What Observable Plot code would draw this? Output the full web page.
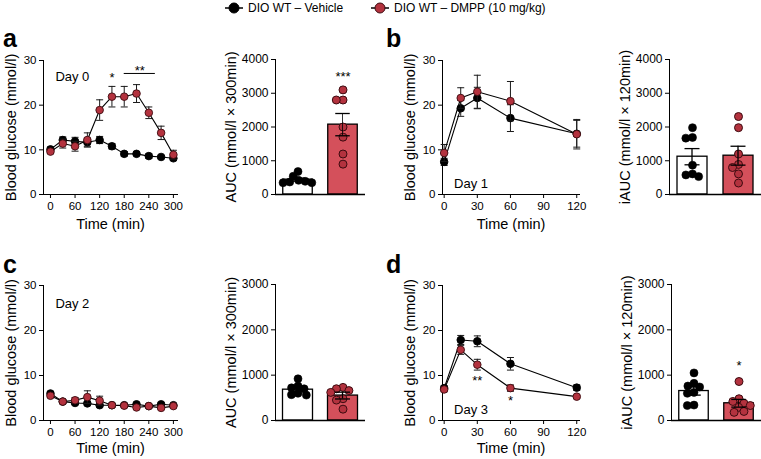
<!DOCTYPE html>
<html>
<head>
<meta charset="utf-8">
<script src="https://cdn.jsdelivr.net/npm/d3@7"></script>
<script src="https://cdn.jsdelivr.net/npm/@observablehq/plot@0.6"></script>
<style>
  html, body { margin: 0; padding: 0; background: white; }
  #root { position: relative; width: 761px; height: 459px; overflow: hidden; font-family: 'Liberation Sans', Arial, Helvetica, sans-serif; color: black; }
  #root svg g[aria-label="x-axis label"], #root svg g[aria-label="y-axis label"] { font-size: 14.5px; }
  .letter { position: absolute; font-weight: bold; font-size: 25px; line-height: 25px; }
  .leg { position: absolute; top: 1px; display: flex; align-items: center; font-size: 12px; white-space: nowrap; }
  .leg svg { margin-right: 4px; }
</style>
</head>
<body>
<div id="root"></div>
<script>
// ---------------- data ----------------
const groups = ["Vehicle", "DMPP"];
const seriesLabels = ["DIO WT \u2013 Vehicle", "DIO WT \u2013 DMPP (10 mg/kg)"];

const glucoseTicks = [0, 10, 20, 30];
const longTimeTicks = [0, 60, 120, 180, 240, 300];
const shortTimeTicks = [0, 30, 60, 90, 120];
const aucTicks4000 = [0, 1000, 2000, 3000, 4000];
const aucTicks3000 = [0, 1000, 2000, 3000];

const timesLong = [0, 30, 60, 90, 120, 150, 180, 210, 240, 270, 300];
const timesShort = [0, 15, 30, 60, 120];

// Day 0 (panel a)
const day0Vehicle    = [10.1, 12.2, 11.9, 11.7, 12.2, 10.8, 9.1, 9.1, 8.6, 8.4, 8.1];
const day0VehicleSem = [0.5, 0.7, 0.9, 0.9, 0.8, 0.6, 0.5, 0.4, 0.5, 0.3, 0.4];
const day0Dmpp       = [9.6, 11.4, 10.8, 12.2, 18.9, 21.9, 21.9, 22.6, 18.3, 13.8, 8.9];
const day0DmppSem    = [0.4, 1.0, 1.1, 1.6, 2.3, 2.3, 2.3, 2.0, 1.3, 1.5, 1.0];
const aucDay0Vehicle = [680, 540, 420, 390, 370, 350, 350];
const aucDay0Dmpp    = [3100, 2800, 2800, 2000, 1700, 1200, 900];
const aucDay0Mean    = [440, 2070];
const aucDay0Sem     = [45, 330];

// Day 1 (panel b)
const day1Vehicle    = [7.3, 19.3, 21.6, 17.1, 13.6];
const day1VehicleSem = [0.8, 1.8, 2.4, 3.0, 3.0];
const day1Dmpp       = [9.3, 21.6, 23.0, 20.9, 13.5];
const day1DmppSem    = [1.9, 2.3, 3.7, 4.4, 3.3];
const iaucDay1Vehicle = [1980, 1690, 1670, 870, 610, 580, 530];
const iaucDay1Dmpp    = [2310, 1980, 1200, 890, 800, 610, 340];
const iaucDay1Mean    = [1120, 1150];
const iaucDay1Sem     = [240, 280];

// Day 2 (panel c)
const day2Vehicle    = [6.0, 4.2, 3.9, 3.8, 3.4, 3.4, 3.4, 3.6, 3.2, 3.6, 3.4];
const day2VehicleSem = [0.4, 0.3, 0.3, 0.3, 0.3, 0.2, 0.2, 0.3, 0.2, 0.3, 0.3];
const day2Dmpp       = [5.5, 4.2, 4.5, 5.2, 4.4, 3.4, 3.3, 2.9, 3.2, 2.8, 3.2];
const day2DmppSem    = [0.4, 0.3, 0.6, 1.4, 1.0, 0.3, 0.2, 0.3, 0.2, 0.3, 0.3];
const aucDay2Vehicle = [920, 760, 720, 700, 600, 570, 560];
const aucDay2Dmpp    = [730, 700, 660, 620, 480, 450, 250];
const aucDay2Mean    = [680, 550];
const aucDay2Sem     = [45, 75];

// Day 3 (panel d)
const day3Vehicle    = [7.2, 17.9, 17.6, 12.6, 7.3];
const day3VehicleSem = [0.5, 1.0, 1.2, 1.4, 0.6];
const day3Dmpp       = [6.9, 15.7, 12.4, 7.2, 5.3];
const day3DmppSem    = [0.5, 1.0, 1.2, 0.7, 0.3];
const iaucDay3Vehicle = [1050, 820, 760, 740, 620, 600, 340, 330];
const iaucDay3Dmpp    = [860, 480, 420, 380, 330, 290, 200, 180];
const iaucDay3Mean    = [650, 380];
const iaucDay3Sem     = [90, 85];

// ---------------- style ----------------
const FONT = "'Liberation Sans', Arial, Helvetica, sans-serif";
const RED_DOT = "#b3323e";
const RED_EDGE = "#3d0b10";
const RED_BAR = "#d4505b";
const capSymbol = { draw(ctx, size) { const w = Math.sqrt(size / Math.PI); ctx.moveTo(-w, 0); ctx.lineTo(w, 0); } };
// drawn circle larger than the radius used for dodging, so points may overlap a little (Prism-like scatter)
const DOT_GROW = 1.4;
const bigCircle = { draw(ctx, size) { const r = Math.sqrt(size / Math.PI) * DOT_GROW; ctx.moveTo(r, 0); ctx.arc(0, 0, r, 0, 2 * Math.PI); ctx.closePath(); } };

const root = document.getElementById("root");
function place(node, left, top) {
  node.style.position = "absolute";
  node.style.left = left + "px";
  node.style.top = top + "px";
  root.appendChild(node);
}

function linePanel(o) {
  const rows = (vals, sems) => o.times.map((t, i) => ({ t, v: vals[i], lo: vals[i] - sems[i], hi: vals[i] + sems[i] }));
  const series = (data, fill, stroke) => [
    Plot.ruleX(data, { x: "t", y1: "lo", y2: "hi", stroke: "#1a1a1a", strokeWidth: 1 }),
    Plot.dot(data, { x: "t", y: "hi", symbol: capSymbol, r: 3.5, fill: "none", stroke: "#1a1a1a", strokeWidth: 1 }),
    Plot.dot(data, { x: "t", y: "lo", symbol: capSymbol, r: 3.5, fill: "none", stroke: "#1a1a1a", strokeWidth: 1 }),
    Plot.line(data, { x: "t", y: "v", stroke: "black", strokeWidth: 1.1 }),
    Plot.dot(data, { x: "t", y: "v", r: 3.8, fill, stroke, strokeWidth: 0.9 })
  ];
  return Plot.plot({
    width: o.width, height: 200,
    marginLeft: o.marginLeft, marginRight: o.marginRight, marginTop: 20, marginBottom: o.marginBottom,
    style: { fontFamily: FONT, fontSize: "11.5px", color: "black", background: "transparent", overflow: "visible" },
    x: { domain: o.xDomain, ticks: o.xTicks, tickFormat: "d", tickSize: 4, tickPadding: 3, line: true,
         label: "Time (min)", labelAnchor: "center", labelOffset: o.xLabelOffset, labelArrow: "none" },
    y: { domain: [0, 30], ticks: glucoseTicks, tickFormat: "d", tickSize: 4, tickPadding: 3, line: true,
         label: "Blood glucose (mmol/l)", labelAnchor: "center", labelOffset: 38, labelArrow: "none" },
    marks: [
      ...series(rows(o.veh, o.vehSem), "black", "black"),
      ...series(rows(o.dmpp, o.dmppSem), RED_DOT, RED_EDGE),
      ...(o.extra || [])
    ]
  });
}

function barPanel(o) {
  const pts = (vals, g) => vals.map(v => ({ g, v }));
  const stats = groups.map((g, i) => ({ g, mean: o.mean[i], lo: o.mean[i] - o.sem[i], hi: o.mean[i] + o.sem[i] }));
  const fw = (o.width - o.marginLeft - o.marginRight) / 2;
  const barInset = (fw - 30) / 2;
  const capInset = (fw - 15) / 2;
  const stemInset = (fw - 1.3) / 2;
  const dodgeR = 4 / DOT_GROW;
  return Plot.plot({
    width: o.width, height: 200,
    marginLeft: o.marginLeft, marginRight: o.marginRight, marginTop: 19, marginBottom: o.marginBottom,
    style: { fontFamily: FONT, fontSize: "12px", color: "black", background: "transparent", overflow: "visible" },
    fx: { domain: groups, axis: null, padding: 0 },
    y: { domain: [0, o.yMax], ticks: o.yTicks, tickFormat: "d", tickSize: 4, tickPadding: 3, line: true,
         label: o.label, labelAnchor: "center", labelOffset: 50, labelArrow: "none" },
    marks: [
      Plot.barY(stats.filter(d => d.g === "Vehicle"), { fx: "g", y: "mean", fill: "white", stroke: "black", strokeWidth: 1.3, insetLeft: barInset, insetRight: barInset }),
      Plot.barY(stats.filter(d => d.g === "DMPP"), { fx: "g", y: "mean", fill: RED_BAR, stroke: "black", strokeWidth: 1.3, insetLeft: barInset, insetRight: barInset }),
      Plot.ruleY([0], { stroke: "black", strokeWidth: 1.3 }),
      Plot.dot(pts(o.veh, "Vehicle"), Plot.dodgeX("middle", { fx: "g", y: "v", r: dodgeR, padding: 0.8, symbol: bigCircle, fill: "black", stroke: "black", strokeWidth: 0.6 })),
      Plot.dot(pts(o.dmpp, "DMPP"), Plot.dodgeX("middle", { fx: "g", y: "v", r: dodgeR, padding: 0.8, symbol: bigCircle, fill: RED_DOT, stroke: RED_EDGE, strokeWidth: 1 })),
      Plot.barY(stats, { fx: "g", y1: "lo", y2: "hi", fill: "black", insetLeft: stemInset, insetRight: stemInset }),
      Plot.tickY(stats, { fx: "g", y: "hi", stroke: "black", strokeWidth: 1.3, insetLeft: capInset, insetRight: capInset }),
      Plot.tickY(stats, { fx: "g", y: "lo", stroke: "black", strokeWidth: 1.3, insetLeft: capInset, insetRight: capInset }),
      ...(o.extra || [])
    ]
  });
}

const note = (x, y, text, anchor = "middle") => Plot.text([{ x, y, text }], { x: "x", y: "y", text: "text", textAnchor: anchor, fontSize: 13 });
const star = (g, y, text) => Plot.text([{ g, y, text }], { fx: "g", y: "y", text: "text", fontSize: 13 });

// ---------------- panels ----------------
place(linePanel({
  width: 190, marginLeft: 43, marginRight: 13, marginBottom: 46, xLabelOffset: 34,
  times: timesLong, xDomain: [-17, 310], xTicks: longTimeTicks,
  veh: day0Vehicle, vehSem: day0VehicleSem, dmpp: day0Dmpp, dmppSem: day0DmppSem,
  extra: [note(12, 26.4, "Day 0", "start"), note(150, 26.2, "*"), note(218, 27.6, "**"),
          Plot.ruleY([27.1], { x1: 180, x2: 256, stroke: "black", strokeWidth: 1 })]
}), 0, 40);

place(barPanel({
  width: 180, marginLeft: 84, marginRight: 5, marginBottom: 46,
  yMax: 4000, yTicks: aucTicks4000, label: "AUC (mmol/l \u00d7 300min)",
  veh: aucDay0Vehicle, dmpp: aucDay0Dmpp, mean: aucDay0Mean, sem: aucDay0Sem,
  extra: [star("DMPP", 3480, "***")]
}), 190, 40);

place(linePanel({
  width: 215, marginLeft: 72, marginRight: 6, marginBottom: 46, xLabelOffset: 34,
  times: timesShort, xDomain: [-1.5, 122.5], xTicks: shortTimeTicks,
  veh: day1Vehicle, vehSem: day1VehicleSem, dmpp: day1Dmpp, dmppSem: day1DmppSem,
  extra: [note(9, 2.5, "Day 1", "start")]
}), 370, 40);

place(barPanel({
  width: 176, marginLeft: 84, marginRight: 0, marginBottom: 46,
  yMax: 4000, yTicks: aucTicks4000, label: "iAUC (mmol/l \u00d7 120min)",
  veh: iaucDay1Vehicle, dmpp: iaucDay1Dmpp, mean: iaucDay1Mean, sem: iaucDay1Sem
}), 585, 40);

place(linePanel({
  width: 190, marginLeft: 43, marginRight: 13, marginBottom: 45, xLabelOffset: 32,
  times: timesLong, xDomain: [-17, 310], xTicks: longTimeTicks,
  veh: day2Vehicle, vehSem: day2VehicleSem, dmpp: day2Dmpp, dmppSem: day2DmppSem,
  extra: [note(12, 26, "Day 2", "start")]
}), 0, 265);

place(barPanel({
  width: 180, marginLeft: 85, marginRight: 5, marginBottom: 45,
  yMax: 3000, yTicks: aucTicks3000, label: "AUC (mmol/l \u00d7 300min)",
  veh: aucDay2Vehicle, dmpp: aucDay2Dmpp, mean: aucDay2Mean, sem: aucDay2Sem
}), 190, 265);

place(linePanel({
  width: 215, marginLeft: 72, marginRight: 6, marginBottom: 45, xLabelOffset: 32,
  times: timesShort, xDomain: [-1.5, 122.5], xTicks: shortTimeTicks,
  veh: day3Vehicle, vehSem: day3VehicleSem, dmpp: day3Dmpp, dmppSem: day3DmppSem,
  extra: [note(9, 2.3, "Day 3", "start"), note(30, 8.9, "**"), note(60, 4.4, "*")]
}), 370, 265);

place(barPanel({
  width: 176, marginLeft: 85, marginRight: 0, marginBottom: 45,
  yMax: 3000, yTicks: aucTicks3000, label: "iAUC (mmol/l \u00d7 120min)",
  veh: iaucDay3Vehicle, dmpp: iaucDay3Dmpp, mean: iaucDay3Mean, sem: iaucDay3Sem,
  extra: [star("DMPP", 1200, "*")]
}), 585, 265);

// ---------------- legend ----------------
const legendFills = ["black", RED_DOT];
const legendEdges = ["black", RED_EDGE];
const legendLefts = [224, 370];
seriesLabels.forEach((lab, i) => {
  const item = document.createElement("div");
  item.className = "leg";
  item.innerHTML = `<svg width="20" height="14"><line x1="1" x2="19" y1="7" y2="7" stroke="black" stroke-width="1.5"/><circle cx="10" cy="7" r="5" fill="${legendFills[i]}" stroke="${legendEdges[i]}" stroke-width="1"/></svg><span>${lab}</span>`;
  item.style.left = legendLefts[i] + "px";
  root.appendChild(item);
});

// ---------------- panel letters ----------------
[["a", 3, 26], ["b", 386, 26], ["c", 3, 252], ["d", 386, 252]].forEach(([t, x, y]) => {
  const el = document.createElement("div");
  el.className = "letter";
  el.textContent = t;
  el.style.left = x + "px";
  el.style.top = y + "px";
  root.appendChild(el);
});
</script>
</body>
</html>
